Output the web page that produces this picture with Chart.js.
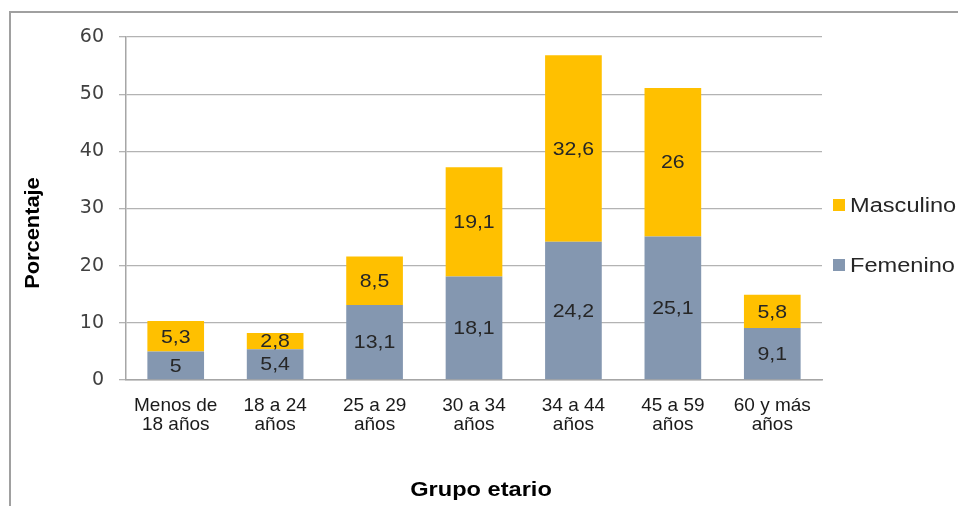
<!DOCTYPE html>
<html>
<head>
<meta charset="utf-8">
<script src="https://cdn.jsdelivr.net/npm/chart.js@4/dist/chart.umd.min.js"></script>
<style>
  body{margin:0;background:#fff;}
  #wrap{position:relative;width:958px;height:506px;overflow:hidden;}
  #marco{position:absolute;left:9px;top:11px;width:1000px;height:600px;border-left:2px solid #a0a0a0;border-top:2px solid #a0a0a0;}
  canvas{position:absolute;left:0;top:0;}
</style>
</head>
<body>
<div id="wrap">
  <div id="marco"></div>
  <canvas id="grafico" width="958" height="506"></canvas>
</div>
<script>
const categorias=[['Menos de','18 años'],['18 a 24','años'],['25 a 29','años'],['30 a 34','años'],['34 a 44','años'],['45 a 59','años'],['60 y más','años']];
const femenino=[5,5.4,13.1,18.1,24.2,25.1,9.1];
const masculino=[5.3,2.8,8.5,19.1,32.6,26,5.8];
const ejeY={min:0,max:60,paso:10};

const fuente='"Liberation Sans", Arial, sans-serif';

// texto algo ensanchado, como en el original
function texto(ctx,t,x,y,ancho){
    ctx.save();
    ctx.translate(x,y);
    ctx.scale(ancho,1);
    ctx.fillText(t,0,0);
    ctx.restore();
}

const etiquetas={
    id:'etiquetas',
    afterDatasetsDraw(chart){
        const ctx=chart.ctx;
        ctx.save();
        ctx.font='19px '+fuente;
        ctx.fillStyle='#262626';
        ctx.textAlign='center';
        ctx.textBaseline='middle';
        chart.data.datasets.forEach((ds,i)=>{
            chart.getDatasetMeta(i).data.forEach((bar,j)=>{
                const p=bar.getProps(['x','y','base'],true);
                texto(ctx,String(ds.data[j]).replace('.',','),p.x,(p.y+p.base)/2+1,1.12);
            });
        });
        ctx.restore();
    }
};

// leyenda a la derecha (Masculino arriba)
const leyenda={
    id:'leyenda',
    afterDraw(chart){
        const ctx=chart.ctx;
        const x=chart.chartArea.right+11;
        ctx.save();
        ctx.font='20px '+fuente;
        ctx.textBaseline='middle';
        chart.data.datasets.slice().reverse().forEach((ds,k)=>{
            const y=205+k*60;
            ctx.fillStyle=ds.backgroundColor;
            ctx.fillRect(x,y-6,12,12);
            ctx.fillStyle='#262626';
            texto(ctx,ds.label,x+17,y+1,1.18);
        });
        ctx.restore();
    }
};

const titulos={
    id:'titulos',
    afterDraw(chart){
        const ctx=chart.ctx;
        ctx.save();
        ctx.font='bold 20px '+fuente;
        ctx.fillStyle='#000';
        ctx.textAlign='center';
        ctx.textBaseline='middle';
        texto(ctx,'Grupo etario',481,490,1.18);
        ctx.translate(33,233);
        ctx.rotate(-Math.PI/2);
        texto(ctx,'Porcentaje',0,0,1.09);
        ctx.restore();
    }
};

new Chart(document.getElementById('grafico'),{
    type:'bar',
    data:{
        labels:categorias,
        datasets:[
            {label:'Femenino',data:femenino,backgroundColor:'#8497B0'},
            {label:'Masculino',data:masculino,backgroundColor:'#FFC000'}
        ]
    },
    options:{
        responsive:false,
        animation:false,
        layout:{padding:{top:37,bottom:73,left:0,right:136}},
        datasets:{bar:{categoryPercentage:1,barPercentage:0.57}},
        plugins:{
            tooltip:{enabled:false},
            legend:{display:false}
        },
        scales:{
            x:{
                stacked:true,
                grid:{display:false},
                border:{color:'#a6a6a6',width:1.5},
                ticks:{color:'#1a1a1a',padding:8,maxRotation:0,font:{family:fuente,size:19,lineHeight:1.02}},
                afterFit(s){s.height=53;}
            },
            y:{
                stacked:true,
                min:ejeY.min,max:ejeY.max,
                grid:{color:'#b3b3b3',lineWidth:1.3,tickLength:7},
                border:{color:'#a6a6a6',width:1.5},
                ticks:{stepSize:ejeY.paso,color:'#404040',padding:15,font:{family:'"DejaVu Sans", sans-serif',size:19}},
                afterFit(s){s.width=126;}
            }
        }
    },
    plugins:[etiquetas,leyenda,titulos]
});
</script>
</body>
</html>
